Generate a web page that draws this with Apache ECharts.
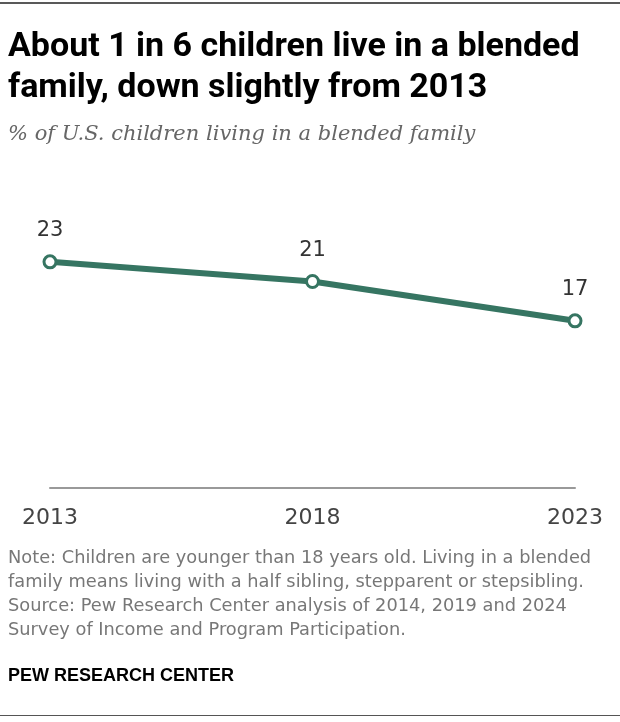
<!DOCTYPE html>
<html>
<head>
<meta charset="utf-8">
<script src="https://cdn.jsdelivr.net/npm/echarts@6/dist/echarts.min.js"></script>
<style>
html,body{margin:0;padding:0;background:#fff;}
#chart{width:620px;height:722px;}
</style>
</head>
<body>
<div id="chart"></div>
<script>
const years = ['2013', '2018', '2023'];
const values = [23, 21, 17];
const titleLines = ['About 1 in 6 children live in a blended', 'family, down slightly from 2013'];
const subtitle = '% of U.S. children living in a blended family';
const noteLines = [
  'Note: Children are younger than 18 years old. Living in a blended',
  'family means living with a half sibling, stepparent or stepsibling.',
  'Source: Pew Research Center analysis of 2014, 2019 and 2024',
  'Survey of Income and Program Participation.'
];
const footer = 'PEW RESEARCH CENTER';

const chart = echarts.init(document.getElementById('chart'), null, {renderer: 'canvas'});
const lineColor = '#367562';
const sans = '"Liberation Sans", Arial, sans-serif';
const wide = '"DejaVu Sans", "Liberation Sans", sans-serif';
const graphics = [
  {type: 'line', shape: {x1: 0, y1: 3, x2: 620, y2: 3}, style: {stroke: '#222', lineWidth: 1.5}},
  {type: 'line', shape: {x1: 0, y1: 715.5, x2: 620, y2: 715.5}, style: {stroke: '#555', lineWidth: 1}}
];
titleLines.forEach((t, i) => graphics.push({
  type: 'text', left: 8, top: 30 + i * 41,
  style: {text: t, font: 'bold 34px Roboto, "Liberation Sans", sans-serif', fill: '#000'}
}));
graphics.push({type: 'text', left: 8, top: 124,
  style: {text: subtitle, font: 'italic 21px "DejaVu Serif", serif', fill: '#666'}});
noteLines.forEach((t, i) => graphics.push({
  type: 'text', left: 8, top: 549 + i * 24,
  style: {text: t, font: '17.8px ' + wide, fill: '#777'}
}));
graphics.push({type: 'text', left: 8, top: 667,
  style: {text: footer, font: 'bold 18px ' + sans, fill: '#000'}});

chart.setOption({
  animation: false,
  grid: {left: 50, right: 45, top: 193, bottom: 722 - 488},
  xAxis: {
    type: 'category', data: years, boundaryGap: false,
    axisLine: {lineStyle: {color: '#999', width: 2}},
    axisTick: {show: false},
    axisLabel: {color: '#444', fontSize: 22, margin: 19, fontFamily: wide}
  },
  yAxis: {type: 'value', min: 0, max: 30, show: false, splitLine: {show: false}},
  series: [{
    type: 'line', data: values,
    lineStyle: {color: lineColor, width: 6},
    symbol: 'circle', symbolSize: 12,
    itemStyle: {color: '#fff', borderColor: lineColor, borderWidth: 3},
    label: {show: true, position: 'top', distance: 13, color: '#333', fontSize: 21, fontFamily: wide}
  }],
  graphic: graphics
});
</script>
</body>
</html>
